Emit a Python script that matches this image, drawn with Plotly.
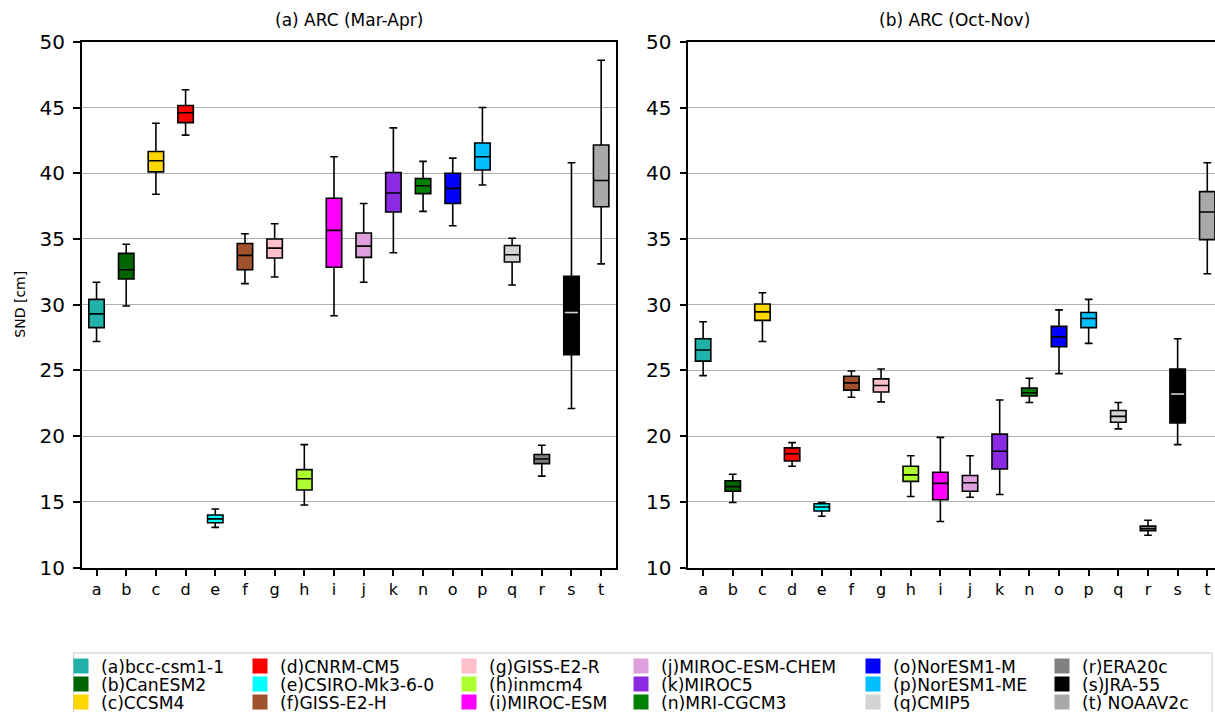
import plotly.graph_objects as go

# ---------------- data ----------------
letters = ["a", "b", "c", "d", "e", "f", "g", "h", "i", "j", "k", "n", "o", "p", "q", "r", "s", "t"]
models = ["bcc-csm1-1", "CanESM2", "CCSM4", "CNRM-CM5", "CSIRO-Mk3-6-0", "GISS-E2-H",
          "GISS-E2-R", "inmcm4", "MIROC-ESM", "MIROC-ESM-CHEM", "MIROC5", "MRI-CGCM3",
          "NorESM1-M", "NorESM1-ME", "CMIP5", "ERA20c", "JRA-55", " NOAAV2c"]
colors = ["#20B2AA", "#006400", "#FFD700", "#FF0000", "#00FFFF", "#A0522D",
          "#FFC0CB", "#ADFF2F", "#FF00FF", "#DDA0DD", "#8A2BE2", "#008000",
          "#0000FF", "#00BFFF", "#D3D3D3", "#808080", "#000000", "#A9A9A9"]

# (a) ARC Mar-Apr
ma_lo = [27.2, 29.9, 38.4, 42.9, 13.05, 31.6, 32.1, 14.75, 29.15, 31.7, 33.95, 37.1, 36.0, 39.1, 31.5, 16.95, 22.1, 33.1]
ma_q1 = [28.25, 31.95, 40.1, 43.85, 13.4, 32.65, 33.55, 15.9, 32.85, 33.6, 37.05, 38.45, 37.7, 40.25, 33.25, 17.9, 26.2, 37.45]
ma_med = [29.3, 32.65, 40.95, 44.6, 13.7, 33.75, 34.3, 16.75, 35.65, 34.45, 38.5, 39.05, 38.85, 41.25, 33.8, 18.25, 29.4, 39.45]
ma_q3 = [30.4, 33.9, 41.65, 45.15, 14.0, 34.65, 35.0, 17.45, 38.1, 35.45, 40.05, 39.6, 40.0, 42.3, 34.5, 18.6, 32.15, 42.15]
ma_hi = [31.7, 34.6, 43.8, 46.35, 14.45, 35.4, 36.15, 19.35, 41.25, 37.7, 43.45, 40.9, 41.15, 45.0, 35.05, 19.3, 40.8, 48.6]

# (b) ARC Oct-Nov
on_lo = [24.6, 14.95, 27.2, 17.7, 13.9, 22.95, 22.6, 15.4, 13.5, 15.35, 15.55, 22.55, 24.75, 27.05, 20.55, 12.45, 19.35, 32.35]
on_q1 = [25.7, 15.8, 28.8, 18.1, 14.3, 23.5, 23.35, 16.55, 15.15, 15.8, 17.5, 23.05, 26.8, 28.25, 21.05, 12.8, 21.0, 34.95]
on_med = [26.55, 16.15, 29.45, 18.65, 14.6, 24.05, 23.85, 17.05, 16.4, 16.45, 18.85, 23.3, 27.55, 28.95, 21.5, 12.95, 23.2, 37.05]
on_q3 = [27.4, 16.6, 30.05, 19.1, 14.85, 24.55, 24.35, 17.7, 17.25, 17.0, 20.15, 23.65, 28.35, 29.4, 21.95, 13.15, 25.1, 38.6]
on_hi = [28.7, 17.1, 30.9, 19.5, 14.95, 24.95, 25.1, 18.5, 19.9, 18.5, 22.75, 24.4, 29.6, 30.4, 22.55, 13.6, 27.4, 40.8]

y_ticks = [10, 15, 20, 25, 30, 35, 40, 45, 50]

# ---------------- figure ----------------
W, H = 1215, 712
FONT = "DejaVu Sans"
BOXW = 0.52
fig = go.Figure()

panels = [
    ("x", "y", ma_lo, ma_q1, ma_med, ma_q3, ma_hi),
    ("x2", "y2", on_lo, on_q1, on_med, on_q3, on_hi),
]
for xa, ya, lo, q1, med, q3, hi in panels:
    for i, L in enumerate(letters):
        fig.add_trace(go.Box(
            x=[i], lowerfence=[lo[i]], q1=[q1[i]], median=[med[i]], q3=[q3[i]], upperfence=[hi[i]],
            width=BOXW, whiskerwidth=0.5, fillcolor=colors[i],
            line=dict(color="black", width=1.6), xaxis=xa, yaxis=ya,
            showlegend=False, hoverinfo="skip", boxpoints=False))
    # JRA-55 median drawn in a light colour (as in the reference)
    si = letters.index("s")
    fig.add_trace(go.Scatter(
        x=[si - BOXW / 2 + 0.04, si + BOXW / 2 - 0.04], y=[med[si], med[si]], mode="lines",
        line=dict(color="#d0d0d0", width=1.6), xaxis=xa, yaxis=ya,
        showlegend=False, hoverinfo="skip"))

# legend: 6 columns x 3 rows, column-major; one single-entry legend per cell
col_text_x = [98, 277, 486, 658, 890, 1079]
row_y = [666.2, 684.2, 702.4]
lay_legends = {}
for c in range(6):
    for r in range(3):
        i = c * 3 + r
        key = "legend" if i == 0 else f"legend{i + 1}"
        fig.add_trace(go.Scatter(
            x=[None], y=[None], mode="markers",
            marker=dict(symbol="square", size=15, color=colors[i], line=dict(width=0)),
            name=f"({letters[i]}){models[i]}", legend=key, showlegend=True))
        lay_legends[key] = dict(
            orientation="v", xanchor="left", yanchor="middle", bgcolor="rgba(0,0,0,0)",
            font=dict(family=FONT, size=17.2, color="black"), itemwidth=30, borderwidth=0,
            x=(col_text_x[c] - 37) / W, y=1 - row_y[r] / H)

xd1 = [81.7 / W, 616 / W]
xd2 = [688.3 / W, 1.0]
yd = [(H - 567.5) / H, (H - 41.8) / H]

ax_common = dict(showline=True, linecolor="black", linewidth=1.5, ticks="outside",
                 ticklen=7, tickwidth=1.5, tickcolor="black", zeroline=False)
xcommon = dict(ax_common, tickmode="array", tickvals=list(range(len(letters))), ticktext=letters,
               showgrid=False, tickfont=dict(family=FONT, size=16, color="black"))
ycommon = dict(ax_common, range=[10, 50], tickmode="array", tickvals=y_ticks,
               ticktext=[str(v) for v in y_ticks], showgrid=True, gridcolor="#b0b0b0",
               gridwidth=1.3, tickfont=dict(family=FONT, size=20, color="black"),
               ticklabelstandoff=4)

fig.update_layout(
    width=W, height=H, autosize=False,
    margin=dict(l=0, r=0, t=0, b=0, autoexpand=False),
    paper_bgcolor="white", plot_bgcolor="white",
    font=dict(family=FONT, color="black"),
    xaxis=dict(xcommon, domain=xd1, range=[-0.5, 17.5], mirror=True, anchor="y"),
    yaxis=dict(ycommon, domain=yd, mirror=True, anchor="x"),
    xaxis2=dict(xcommon, domain=xd2, range=[-0.5, 17.26], mirror=True, anchor="y2"),
    yaxis2=dict(ycommon, domain=yd, anchor="x2"),
    shapes=[dict(type="rect", xref="paper", yref="paper",
                 x0=73.5 / W, x1=1212 / W, y0=-0.05, y1=1 - 653 / H,
                 line=dict(color="#cccccc", width=1), fillcolor="rgba(0,0,0,0)", layer="below")],
    annotations=[
        dict(text="(a) ARC (Mar-Apr)", x=348.8 / W, y=1 - 20 / H, xref="paper", yref="paper",
             xanchor="center", yanchor="middle",
             showarrow=False, font=dict(family=FONT, size=17, color="black")),
        dict(text="(b) ARC (Oct-Nov)", x=954.6 / W, y=1 - 20 / H, xref="paper", yref="paper",
             xanchor="center", yanchor="middle",
             showarrow=False, font=dict(family=FONT, size=17, color="black")),
        dict(text="SND [cm]", x=20 / W, y=(yd[0] + yd[1]) / 2, xref="paper", yref="paper",
             xanchor="center", yanchor="middle",
             showarrow=False, textangle=-90, font=dict(family=FONT, size=14, color="black")),
    ],
    **lay_legends,
)

fig.write_html("out.html", config={"displayModeBar": False},
               post_script="document.body.style.margin='0px';document.body.style.overflow='hidden';")
